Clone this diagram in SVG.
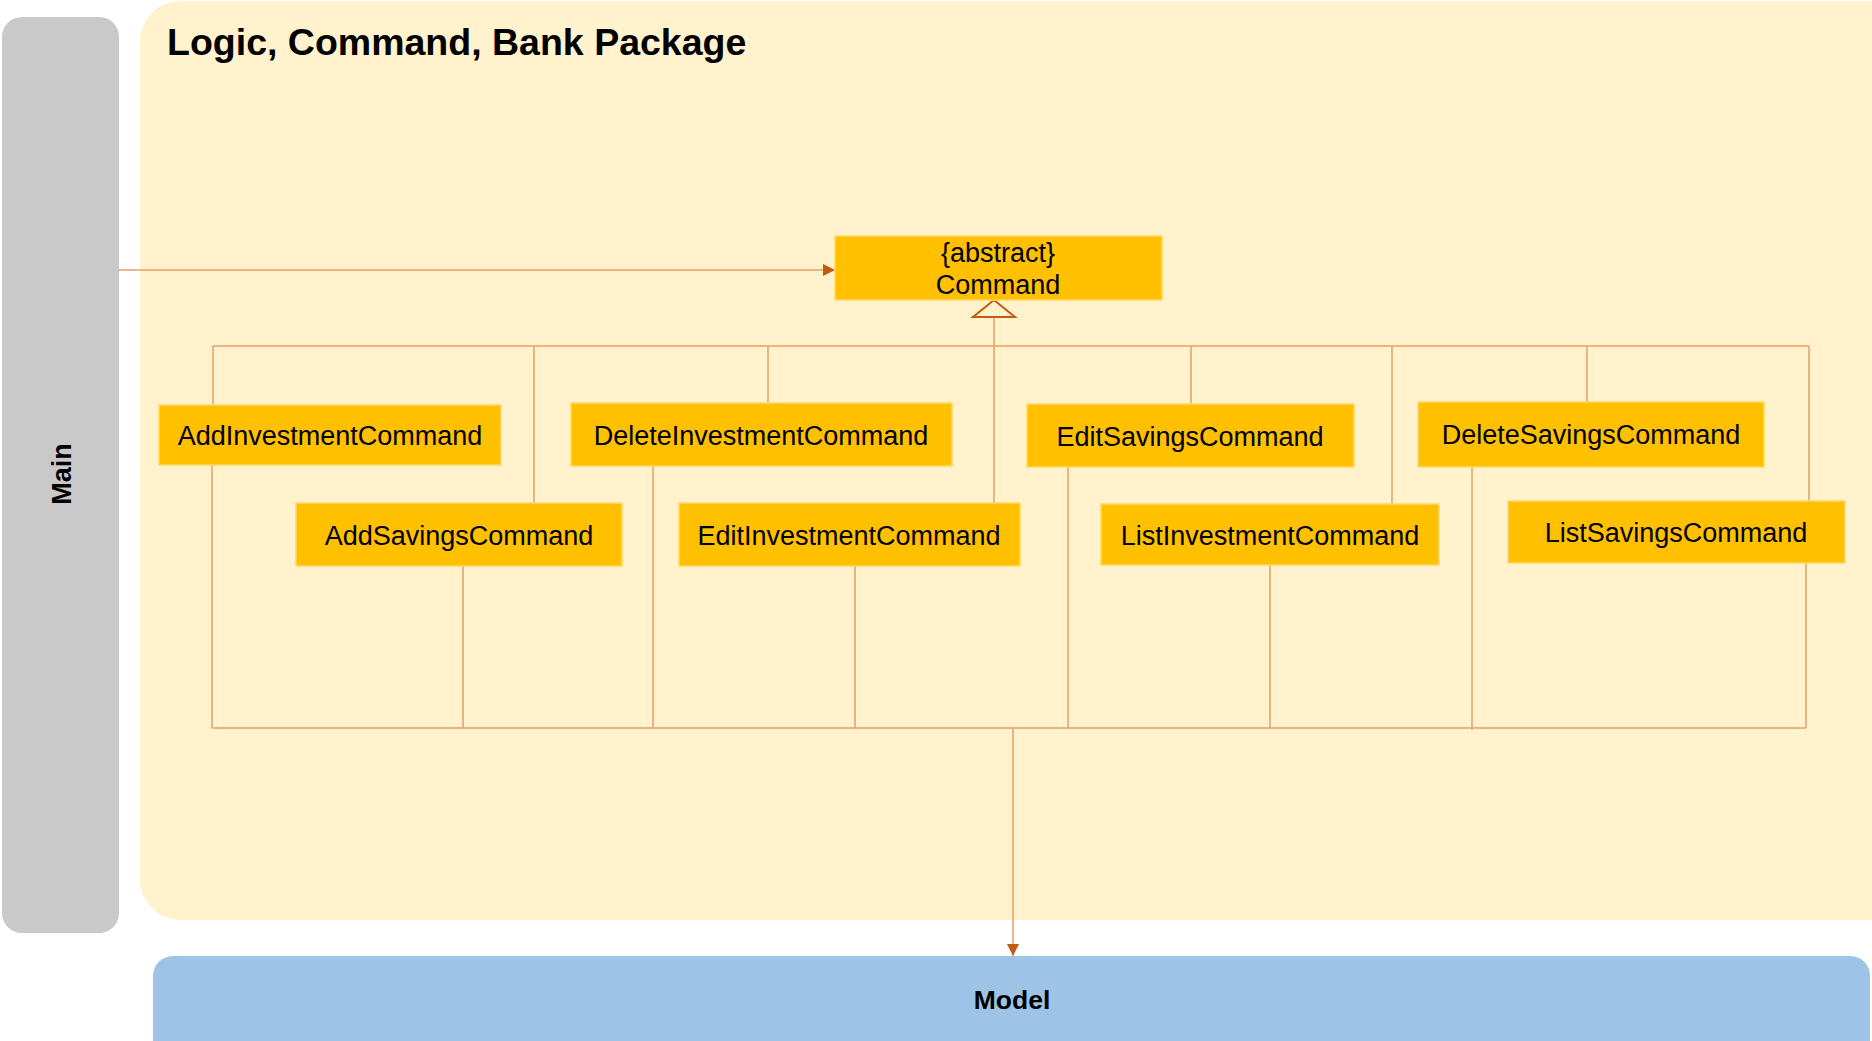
<svg xmlns="http://www.w3.org/2000/svg" width="1872" height="1041" viewBox="0 0 1872 1041">
<style>
.box{fill:#FFC000;stroke:#FFD966;stroke-width:1.5}
.lbl{font-family:"Liberation Sans",Arial,sans-serif;font-size:27px;fill:#000;text-anchor:middle}
.bold{font-family:"Liberation Sans",Arial,sans-serif;font-weight:bold;fill:#000}
.ln{fill:none;stroke:#E6A064;stroke-width:1.5}
</style>
<defs>
<marker id="fa" viewBox="0 0 12 12" refX="12" refY="6" markerWidth="12" markerHeight="12" markerUnits="userSpaceOnUse" orient="auto">
<path d="M0,0 L12,6 L0,12 Z" fill="#C55A11"/>
</marker>
</defs>
<rect width="1872" height="1041" fill="#FFFFFF"/>
<g id="main">
<rect x="2" y="17" width="117" height="916" rx="20" ry="20" fill="#C9C9C9"/>
<text class="bold" font-size="27" transform="translate(71,474) rotate(-90)" text-anchor="middle">Main</text>
</g>
<g id="package">
<rect x="140" y="1" width="1770" height="919" rx="40" ry="40" fill="#FFF2CC"/>
<text class="bold" font-size="37.5" x="167" y="55">Logic, Command, Bank Package</text>
</g>
<g id="model">
<rect x="153" y="956" width="1717" height="120" rx="20" ry="20" fill="#9DC3E6"/>
<text class="bold" font-size="26.5" x="1012" y="1009" text-anchor="middle">Model</text>
</g>
<g id="connectors">
<line class="ln" x1="119" y1="270" x2="835" y2="270" marker-end="url(#fa)"/>
<line class="ln" x1="213" y1="346" x2="1809" y2="346" stroke-width="2"/>
<line class="ln" x1="994" y1="317" x2="994" y2="503"/>
<line class="ln" x1="213" y1="346" x2="213" y2="405"/>
<line class="ln" x1="534" y1="346" x2="534" y2="503"/>
<line class="ln" x1="768" y1="346" x2="768" y2="403"/>
<line class="ln" x1="1191" y1="346" x2="1191" y2="404"/>
<line class="ln" x1="1392" y1="346" x2="1392" y2="504"/>
<line class="ln" x1="1587" y1="346" x2="1587" y2="402"/>
<line class="ln" x1="1809" y1="346" x2="1809" y2="501"/>
<line class="ln" x1="212" y1="728" x2="1806" y2="728" stroke-width="2"/>
<line class="ln" x1="212" y1="465" x2="212" y2="728"/>
<line class="ln" x1="463" y1="566" x2="463" y2="728"/>
<line class="ln" x1="653" y1="466" x2="653" y2="728"/>
<line class="ln" x1="855" y1="566" x2="855" y2="728"/>
<line class="ln" x1="1068" y1="467" x2="1068" y2="728"/>
<line class="ln" x1="1270" y1="565" x2="1270" y2="728"/>
<line class="ln" x1="1472" y1="467" x2="1472" y2="730"/>
<line class="ln" x1="1806" y1="563" x2="1806" y2="728"/>
<line class="ln" x1="1013" y1="728" x2="1013" y2="956" stroke-width="2" marker-end="url(#fa)"/>
<path d="M994,300 L1015,317 L973,317 Z" fill="#FFF2CC" stroke="#C55A11" stroke-width="2"/>
</g>
<g id="command">
<rect class="box" x="835" y="236" width="327" height="64"/>
<text class="lbl" x="998" y="262">{abstract}</text>
<text class="lbl" x="998" y="294">Command</text>
</g>
<g id="addInvestment">
<rect class="box" x="159" y="405" width="342" height="60"/>
<text class="lbl" x="330" y="445">AddInvestmentCommand</text>
</g>
<g id="deleteInvestment">
<rect class="box" x="571" y="403" width="381" height="63"/>
<text class="lbl" x="761" y="445">DeleteInvestmentCommand</text>
</g>
<g id="editSavings">
<rect class="box" x="1027" y="404" width="327" height="63"/>
<text class="lbl" x="1190" y="446">EditSavingsCommand</text>
</g>
<g id="deleteSavings">
<rect class="box" x="1418" y="402" width="346" height="65"/>
<text class="lbl" x="1591" y="444">DeleteSavingsCommand</text>
</g>
<g id="addSavings">
<rect class="box" x="296" y="503" width="326" height="63"/>
<text class="lbl" x="459" y="545">AddSavingsCommand</text>
</g>
<g id="editInvestment">
<rect class="box" x="679" y="503" width="341" height="63"/>
<text class="lbl" x="849" y="545">EditInvestmentCommand</text>
</g>
<g id="listInvestment">
<rect class="box" x="1101" y="504" width="338" height="61"/>
<text class="lbl" x="1270" y="545">ListInvestmentCommand</text>
</g>
<g id="listSavings">
<rect class="box" x="1508" y="501" width="337" height="62"/>
<text class="lbl" x="1676" y="542">ListSavingsCommand</text>
</g>
</svg>
